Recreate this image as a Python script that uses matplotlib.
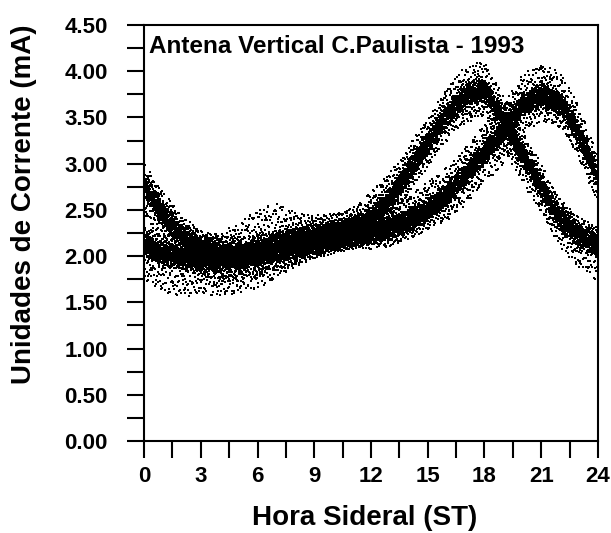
import matplotlib
matplotlib.use('Agg')
import matplotlib.pyplot as plt
import numpy as np

# hourly values (sidereal hour -> current, mA)
hours = np.arange(0, 25)
band_a = [2.12, 2.02, 1.98, 1.96, 1.95, 1.98, 2.05, 2.12, 2.18, 2.22, 2.26, 2.30, 2.40,
          2.62, 2.92, 3.22, 3.52, 3.74, 3.80, 3.46, 3.10, 2.75, 2.40, 2.22, 2.12]
band_b = [2.75, 2.45, 2.22, 2.08, 2.02, 2.00, 2.02, 2.06, 2.10, 2.14, 2.18, 2.22, 2.26,
          2.30, 2.38, 2.50, 2.66, 2.88, 3.12, 3.35, 3.64, 3.74, 3.66, 3.32, 2.85]
# scatter below / above each band
a_low = [0.40, 0.42, 0.42, 0.40, 0.38, 0.38, 0.40, 0.38, 0.30, 0.20, 0.18, 0.18, 0.20,
         0.22, 0.25, 0.25, 0.28, 0.30, 0.30, 0.30, 0.30, 0.30, 0.30, 0.35, 0.40]
a_high = [0.20, 0.20, 0.20, 0.25, 0.30, 0.38, 0.48, 0.45, 0.30, 0.22, 0.20, 0.22, 0.30,
          0.30, 0.28, 0.28, 0.30, 0.32, 0.30, 0.28, 0.25, 0.25, 0.22, 0.20, 0.20]
b_low = [0.30, 0.30, 0.30, 0.30, 0.30, 0.28, 0.25, 0.20, 0.20, 0.18, 0.15, 0.15, 0.18,
         0.20, 0.20, 0.22, 0.28, 0.32, 0.35, 0.35, 0.32, 0.28, 0.28, 0.28, 0.30]
b_high = [0.25, 0.25, 0.22, 0.20, 0.20, 0.20, 0.22, 0.22, 0.20, 0.18, 0.18, 0.20, 0.22,
          0.25, 0.28, 0.30, 0.30, 0.30, 0.30, 0.30, 0.32, 0.35, 0.32, 0.30, 0.25]
core = 0.14


def halton(n, base, start=1):
    # van der Corput sequence, deterministic spread in [0, 1)
    i = np.arange(start, start + n)
    out = np.zeros(n)
    f = 1.0
    while i.any():
        f /= base
        out += f * (i % base)
        i = i // base
    return out


def cloud(center, low, high, n_core, n_halo, start):
    t = 24.0 * halton(n_core, 2, start)
    off = (halton(n_core, 3, start) + halton(n_core, 5, start) - 1.0) * core
    y = np.interp(t, hours, center) + off
    th = 24.0 * halton(n_halo, 2, start + n_core)
    u = halton(n_halo, 7, start + n_core)
    w = halton(n_halo, 3, start + n_core)
    lo = np.interp(th, hours, low)
    hi = np.interp(th, hours, high)
    side = np.where(u < 0.5, -lo, hi)
    yh = np.interp(th, hours, center) + side * w ** 1.6
    return np.concatenate([t, th]), np.concatenate([y, yh])


fig = plt.figure(figsize=(6.11, 5.33), dpi=100)
ax = fig.add_axes([0.2357, 0.1726, 0.7430, 0.7805])

start = 1
for c, lo, hi in [(band_a, a_low, a_high), (band_b, b_low, b_high)]:
    x, y = cloud(c, lo, hi, 7000, 3800, start)
    start += 20000
    ax.plot(x, y, linestyle='none', marker='s', markersize=1.45,
            markeredgewidth=0, color='black')

ax.set_xlim(0, 24)
ax.set_ylim(0, 4.5)
ax.set_xticks(np.arange(0, 25, 3))
ax.set_xticks(np.arange(0, 25, 1.5), minor=True)
ax.set_yticks(np.arange(0, 4.51, 0.5))
ax.set_yticks(np.arange(0, 4.51, 0.25), minor=True)
ax.set_yticklabels(['%.2f' % v for v in np.arange(0, 4.51, 0.5)])

fp = dict(family='Liberation Sans', weight='bold')
for lab in ax.get_xticklabels() + ax.get_yticklabels():
    lab.set_fontproperties(fp)
    lab.set_fontsize(16)
ax.tick_params(which='both', direction='out', length=12, width=1.5,
               top=False, right=False)
ax.tick_params(axis='x', which='major', pad=6)
ax.tick_params(axis='y', which='major', pad=14)
for s in ax.spines.values():
    s.set_linewidth(1.5)

ax.set_xlabel('Hora Sideral (ST)', fontsize=20, **fp)
ax.set_ylabel('Unidades de Corrente (mA)', fontsize=20, **fp)
ax.xaxis.set_label_coords(0.487, -0.155)
ax.yaxis.set_label_coords(-0.236, 0.569)
ax.text(0.012, 0.975, 'Antena Vertical C.Paulista - 1993', transform=ax.transAxes,
        fontsize=17.5, va='top', ha='left', **fp)

fig.savefig('out.png', dpi=100)
